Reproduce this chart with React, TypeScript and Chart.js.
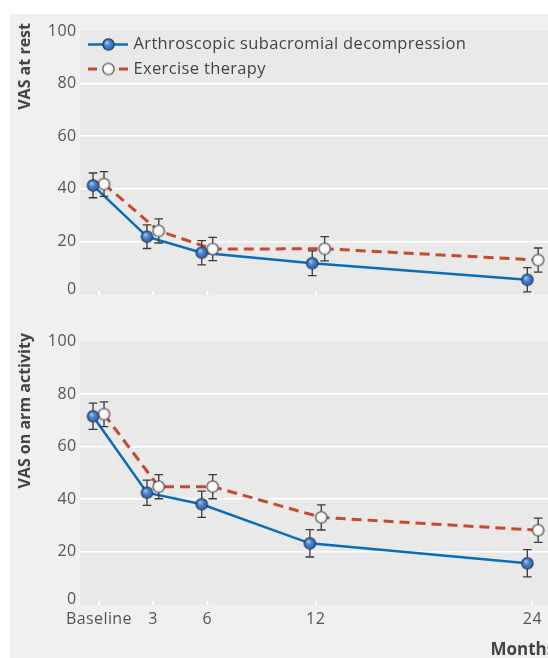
import React, { useEffect, useRef } from "react";
import { Chart, registerables } from "chart.js";

Chart.register(...registerables);

// ---------- data ----------
const months = [0, 3, 6, 12, 24];
const tickLabels = ["Baseline", "3", "6", "12", "24"];
const seriesNames = ["Arthroscopic subacromial decompression", "Exercise therapy"];
const yTicks = [0, 20, 40, 60, 80, 100];

// VAS at rest (markers are dodged slightly around each time point)
const restAsdX = [-0.33, 2.66, 5.69, 11.81, 23.72];
const restAsd = [41.3, 21.8, 15.7, 11.7, 5.4];
const restAsdErr = [4.7, 4.5, 4.6, 4.7, 4.6];
const restExX = [0.28, 3.31, 6.3, 12.5, 24.32];
const restEx = [41.8, 24.0, 17.1, 17.2, 12.9];
const restExErr = [4.7, 4.6, 4.4, 4.6, 4.6];

// VAS on arm activity
const armAsdX = [-0.33, 2.66, 5.69, 11.68, 23.72];
const armAsd = [71.5, 42.4, 38.0, 23.1, 15.5];
const armAsdErr = [5.0, 4.8, 5.0, 5.2, 5.2];
const armExX = [0.28, 3.31, 6.3, 12.31, 24.32];
const armEx = [72.3, 44.7, 44.7, 33.0, 28.1];
const armExErr = [4.7, 4.6, 4.6, 4.8, 4.6];

// ---------- styles ----------
const FONT = "'Open Sans', 'Noto Sans', sans-serif";
const BLUE = "#0b6db8";
const RED = "#c54a30";
const PLOT_BG = "#e9e9e9";
const PANEL_BG = "#f0f0f0";
const TEXT = "#444444";
const TICK_TEXT = "#555555";
const ERR = "#3a3a3a";

function makeMarker(kind: "blue" | "white", r: number): HTMLCanvasElement {
  const size = Math.ceil(2 * r + 3);
  const c = document.createElement("canvas");
  c.width = size;
  c.height = size;
  const ctx = c.getContext("2d")!;
  const cx = size / 2;
  const cy = size / 2;
  const g = ctx.createRadialGradient(cx - r * 0.3, cy - r * 0.35, r * 0.1, cx, cy, r * 1.05);
  if (kind === "blue") {
    g.addColorStop(0, "#9ec6f0");
    g.addColorStop(0.35, "#4f8ad3");
    g.addColorStop(1, "#2a5ca6");
  } else {
    g.addColorStop(0, "#ffffff");
    g.addColorStop(0.6, "#f7f7f7");
    g.addColorStop(1, "#d0d0d0");
  }
  ctx.beginPath();
  ctx.arc(cx, cy, r, 0, Math.PI * 2);
  ctx.fillStyle = g;
  ctx.fill();
  ctx.lineWidth = 1.1;
  ctx.strokeStyle = kind === "blue" ? "#2b3550" : "#4a4a4a";
  ctx.stroke();
  return c;
}

type PanelProps = {
  pageTop: number;
  height: number;
  padTop: number;
  xAxisHeight: number;
  showLabels: boolean;
  title: string;
  titleTop: number;
  asdX: number[];
  asd: number[];
  asdErr: number[];
  exX: number[];
  ex: number[];
  exErr: number[];
  legend: boolean;
  monthsLabel: boolean;
};

const PAGE_LEFT = 10;
const CANVAS_W = 570;

function Panel(p: PanelProps) {
  const ref = useRef<HTMLCanvasElement | null>(null);

  useEffect(() => {
    const canvas = ref.current;
    if (!canvas) return;
    const blueMk = makeMarker("blue", 5.7);
    const whiteMk = makeMarker("white", 5.7);

    const pts = (xs: number[], ys: number[]) => xs.map((x, i) => ({ x, y: ys[i] }));

    const bgPlugin = {
      id: "bg",
      beforeDraw(chart: any) {
        const { ctx, chartArea: a } = chart;
        ctx.save();
        ctx.fillStyle = PLOT_BG;
        ctx.fillRect(a.left, a.top, a.right - a.left, a.bottom - a.top + 1);
        ctx.restore();
      },
    };

    const tickPlugin = {
      id: "tickmarks",
      beforeDatasetsDraw(chart: any) {
        const { ctx, chartArea: a, scales } = chart;
        ctx.save();
        ctx.strokeStyle = "#ffffff";
        ctx.lineWidth = 2;
        months.forEach((m) => {
          const x = scales.x.getPixelForValue(m);
          ctx.beginPath();
          ctx.moveTo(x, a.bottom - 3);
          ctx.lineTo(x, a.bottom + 1);
          ctx.stroke();
        });
        ctx.restore();
      },
    };

    const errPlugin = {
      id: "errbars",
      beforeDatasetDraw(chart: any, args: any) {
        const ds: any = chart.data.datasets[args.index];
        if (!ds.errors) return;
        const { ctx, scales } = chart;
        ctx.save();
        ctx.strokeStyle = ERR;
        ctx.lineWidth = 1.3;
        ds.data.forEach((d: any, i: number) => {
          const e = ds.errors[i];
          const x = scales.x.getPixelForValue(d.x);
          const y1 = scales.y.getPixelForValue(d.y + e);
          const y2 = scales.y.getPixelForValue(d.y - e);
          ctx.beginPath();
          ctx.moveTo(x, y1);
          ctx.lineTo(x, y2);
          ctx.moveTo(x - 4.3, y1);
          ctx.lineTo(x + 4.3, y1);
          ctx.moveTo(x - 4.3, y2);
          ctx.lineTo(x + 4.3, y2);
          ctx.stroke();
        });
        ctx.restore();
      },
    };

    const textPlugin = {
      id: "texts",
      afterDraw(chart: any) {
        const { ctx, chartArea: a, scales } = chart;
        const top = p.pageTop;

        // y tick labels
        ctx.save();
        ctx.font = `16px ${FONT}`;
        ctx.fillStyle = TICK_TEXT;
        (ctx as any).letterSpacing = "0.4px";
        ctx.textAlign = "right";
        ctx.textBaseline = "middle";
        yTicks.forEach((v) => {
          let y = scales.y.getPixelForValue(v);
          if (v === 0) y -= 4.5;
          ctx.fillText(String(v), a.left - 3.5, y);
        });
        // x tick labels
        if (p.showLabels) {
          ctx.textAlign = "center";
          ctx.textBaseline = "alphabetic";
          months.forEach((m, i) => {
            const x = scales.x.getPixelForValue(m);
            ctx.fillText(tickLabels[i], x, 624 - top);
          });
        }
        ctx.restore();

        // y title
        ctx.save();
        ctx.translate(25 - PAGE_LEFT, p.titleTop - top);
        ctx.rotate(-Math.PI / 2);
        ctx.font = `bold 16px ${FONT}`;
        ctx.fillStyle = TEXT;
        ctx.textAlign = "right";
        ctx.textBaseline = "middle";
        ctx.fillText(p.title, 0, 0);
        ctx.restore();

        if (p.legend) {
          ctx.save();
          const rows = [44.5, 69];
          // row 1
          let y = rows[0] - top;
          ctx.strokeStyle = BLUE;
          ctx.lineWidth = 2.5;
          ctx.beginPath();
          ctx.moveTo(88 - PAGE_LEFT, y);
          ctx.lineTo(128 - PAGE_LEFT, y);
          ctx.stroke();
          ctx.drawImage(blueMk, 108.5 - PAGE_LEFT - blueMk.width / 2, y - blueMk.height / 2);
          // row 2
          y = rows[1] - top;
          ctx.strokeStyle = RED;
          ctx.lineWidth = 3;
          ctx.beginPath();
          ctx.moveTo(88 - PAGE_LEFT, y);
          ctx.lineTo(97 - PAGE_LEFT, y);
          ctx.moveTo(119 - PAGE_LEFT, y);
          ctx.lineTo(128 - PAGE_LEFT, y);
          ctx.stroke();
          ctx.drawImage(whiteMk, 108.5 - PAGE_LEFT - whiteMk.width / 2, y - whiteMk.height / 2);
          ctx.font = `16.5px ${FONT}`;
          (ctx as any).letterSpacing = "0.35px";
          ctx.fillStyle = TEXT;
          ctx.textAlign = "left";
          ctx.textBaseline = "middle";
          ctx.fillText(seriesNames[0], 133.5 - PAGE_LEFT, rows[0] - top);
          ctx.fillText(seriesNames[1], 133.5 - PAGE_LEFT, rows[1] - top);
          ctx.restore();
        }

        if (p.monthsLabel) {
          ctx.save();
          ctx.font = `bold 17px ${FONT}`;
          ctx.fillStyle = TEXT;
          ctx.textAlign = "left";
          ctx.textBaseline = "alphabetic";
          ctx.fillText("Months", 490.5 - PAGE_LEFT, 655 - top);
          ctx.restore();
        }
      },
    };

    const chart = new Chart(canvas, {
      type: "line",
      data: {
        datasets: [
          {
            label: seriesNames[0] + " markers",
            data: pts(p.asdX, p.asd),
            errors: p.asdErr,
            showLine: false,
            pointStyle: blueMk,
            pointRadius: 6,
            order: 1,
          } as any,
          {
            label: seriesNames[1] + " markers",
            data: pts(p.exX, p.ex),
            errors: p.exErr,
            showLine: false,
            pointStyle: whiteMk,
            pointRadius: 6,
            order: 1,
          } as any,
          {
            label: seriesNames[0],
            data: pts(p.asdX, p.asd),
            borderColor: BLUE,
            borderWidth: 2.5,
            pointRadius: 0,
            tension: 0,
            order: 3,
          },
          {
            label: seriesNames[1],
            data: pts(p.exX, p.ex),
            borderColor: RED,
            borderWidth: 3,
            borderDash: [10, 6],
            pointRadius: 0,
            tension: 0,
            order: 2,
          },
        ],
      },
      options: {
        animation: false,
        responsive: false,
        devicePixelRatio: 1,
        layout: { padding: { top: p.padTop, left: 0, right: 11.5, bottom: 0 } },
        plugins: {
          legend: { display: false },
          tooltip: { enabled: false },
          title: { display: false },
        },
        scales: {
          x: {
            type: "linear",
            min: -1.05,
            max: 26,
            afterBuildTicks: (scale: any) => {
              scale.ticks = months.map((v) => ({ value: v }));
            },
            afterFit: (scale: any) => {
              scale.height = p.xAxisHeight;
            },
            grid: { display: false, drawTicks: false },
            border: { display: false },
            ticks: { display: false },
          },
          y: {
            min: 0,
            max: 100,
            afterBuildTicks: (scale: any) => {
              scale.ticks = yTicks.map((v) => ({ value: v }));
            },
            afterFit: (scale: any) => {
              scale.width = 70;
            },
            grid: {
              drawTicks: false,
              color: (c: any) =>
                c.tick && c.tick.value > 0 && c.tick.value < 100 ? "#ffffff" : "rgba(0,0,0,0)",
              lineWidth: 1.6,
            },
            border: { display: false },
            ticks: { display: false },
          },
        },
      } as any,
      plugins: [bgPlugin, tickPlugin, errPlugin, textPlugin],
    });
    return () => chart.destroy();
  }, []);

  return (
    <canvas
      ref={ref}
      width={CANVAS_W}
      height={p.height}
      style={{
        position: "absolute",
        left: PAGE_LEFT,
        top: p.pageTop,
        width: CANVAS_W,
        height: p.height,
        display: "block",
      }}
    />
  );
}

export default function App() {
  return (
    <div
      style={{
        position: "absolute",
        left: 0,
        top: 0,
        width: 548,
        height: 658,
        overflow: "hidden",
        background: "#ffffff",
      }}
    >
      <div
        style={{
          position: "absolute",
          left: PAGE_LEFT,
          top: 14,
          width: 600,
          height: 700,
          background: PANEL_BG,
        }}
      />
      <Panel
        pageTop={14}
        height={306}
        padTop={17}
        xAxisHeight={26}
        showLabels={false}
        title="VAS at rest"
        titleTop={23}
        asdX={restAsdX}
        asd={restAsd}
        asdErr={restAsdErr}
        exX={restExX}
        ex={restEx}
        exErr={restExErr}
        legend={true}
        monthsLabel={false}
      />
      <Panel
        pageTop={320}
        height={338}
        padTop={21.5}
        xAxisHeight={54}
        showLabels={true}
        title="VAS on arm activity"
        titleTop={333}
        asdX={armAsdX}
        asd={armAsd}
        asdErr={armAsdErr}
        exX={armExX}
        ex={armEx}
        exErr={armExErr}
        legend={false}
        monthsLabel={true}
      />
    </div>
  );
}
